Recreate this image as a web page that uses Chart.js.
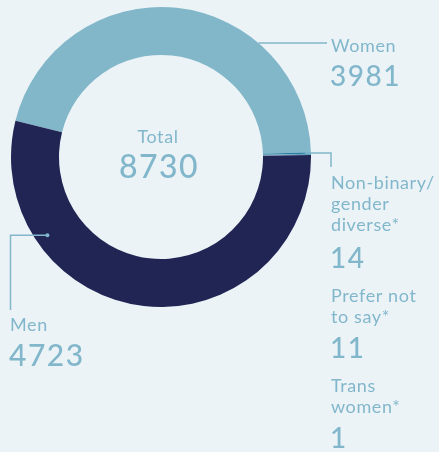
<!DOCTYPE html>
<html>
<head>
<meta charset="utf-8">
<script src="https://cdn.jsdelivr.net/npm/chart.js@4"></script>
<style>
  html, body { margin: 0; padding: 0; background: #ebf3f7; }
  #wrap { width: 439px; height: 452px; position: relative; }
</style>
</head>
<body>
<div id="wrap"><canvas id="donut" width="439" height="452"></canvas></div>
<script>
const categories = ["Women", "Non-binary/gender diverse*", "Prefer not to say*", "Trans women*", "Men"];
const counts = [3981, 14, 11, 1, 4723];
const sliceColors = ["#82b7c9", "#2b7fa3", "#5fa3bf", "#b9d9e6", "#212554"];
const totalLabel = "Total";

const textColor = "#82b7cb";
const lineColor = "#82b7cb";
const font = "Lato, 'Open Sans', sans-serif";

// label blocks: lines of text, then the number
const labelBlocks = [
  { index: 0, x: 331, lines: ["Women"], firstBase: 52, numBase: 86 },
  { index: 1, x: 331, lines: ["Non-binary/", "gender", "diverse*"], firstBase: 189, numBase: 268 },
  { index: 2, x: 331, lines: ["Prefer not", "to say*"], firstBase: 302, numBase: 358 },
  { index: 3, x: 331, lines: ["Trans", "women*"], firstBase: 392, numBase: 448 },
  { index: 4, x: 10, lines: ["Men"], firstBase: 331, numBase: 366 },
];

const calloutPlugin = {
  id: "callouts",
  afterDraw(chart) {
    const ctx = chart.ctx;
    const arcs = chart.getDatasetMeta(0).data;
    const cx = arcs[0].x;
    const cy = arcs[0].y;
    const outer = arcs[0].outerRadius;

    ctx.save();
    ctx.strokeStyle = lineColor;
    ctx.fillStyle = lineColor;
    ctx.lineWidth = 1.5;

    // Women: horizontal line from ring edge to label
    const wy = 43;
    const wx = cx + Math.sqrt(outer * outer - (wy - cy) * (wy - cy));
    ctx.beginPath();
    ctx.moveTo(wx, wy);
    ctx.lineTo(327, wy);
    ctx.stroke();

    // Non-binary: from the slice's outer edge, right then down
    const nb = arcs[1];
    const nbMid = (nb.startAngle + nb.endAngle) / 2;
    const nbx = cx + outer * Math.cos(nbMid);
    const nby = cy + outer * Math.sin(nbMid);
    ctx.beginPath();
    ctx.moveTo(nbx - 6, nby);
    ctx.lineTo(331, nby);
    ctx.lineTo(331, 167);
    ctx.stroke();

    // Men: dot inside the ring, left then down
    const men = arcs[4];
    const mAngle = 145.4 * Math.PI / 180;
    const mr = (men.innerRadius + men.outerRadius) / 2 + 12;
    const mx = cx + mr * Math.cos(mAngle);
    const my = cy + mr * Math.sin(mAngle);
    ctx.beginPath();
    ctx.moveTo(mx, my);
    ctx.lineTo(10.5, my);
    ctx.lineTo(10.5, 310);
    ctx.stroke();
    ctx.beginPath();
    ctx.arc(mx, my, 2, 0, Math.PI * 2);
    ctx.fill();

    // labels
    ctx.fillStyle = textColor;
    ctx.textAlign = "left";
    ctx.textBaseline = "alphabetic";
    labelBlocks.forEach((b) => {
      ctx.font = "400 18px " + font;
      ctx.letterSpacing = "0.6px";
      b.lines.forEach((line, i) => {
        ctx.fillText(line, b.x, b.firstBase + i * 21);
      });
      ctx.font = (b.index === 4 ? "500 30px " : "500 28px ") + font;
      ctx.letterSpacing = "1.5px";
      ctx.fillText(String(counts[b.index]), b.x - 1, b.numBase);
    });

    // centre total
    const total = counts.reduce((a, b) => a + b, 0);
    ctx.textAlign = "center";
    ctx.font = "400 18px " + font;
    ctx.letterSpacing = "0.6px";
    ctx.fillText(totalLabel, cx - 3, 143);
    ctx.font = "500 32px " + font;
    ctx.letterSpacing = "1.5px";
    ctx.fillText(String(total), cx - 2, 178);
    ctx.restore();
  },
};

new Chart(document.getElementById("donut").getContext("2d"), {
  type: "doughnut",
  data: {
    labels: categories,
    datasets: [
      {
        data: counts,
        backgroundColor: sliceColors,
        borderWidth: 0,
      },
    ],
  },
  options: {
    responsive: false,
    devicePixelRatio: 1,
    animation: false,
    rotation: -76,
    cutout: 102,
    layout: { padding: { left: 11, right: 128, top: 7, bottom: 145 } },
    plugins: {
      legend: { display: false },
      tooltip: { enabled: false },
    },
  },
  plugins: [calloutPlugin],
});
</script>
</body>
</html>
